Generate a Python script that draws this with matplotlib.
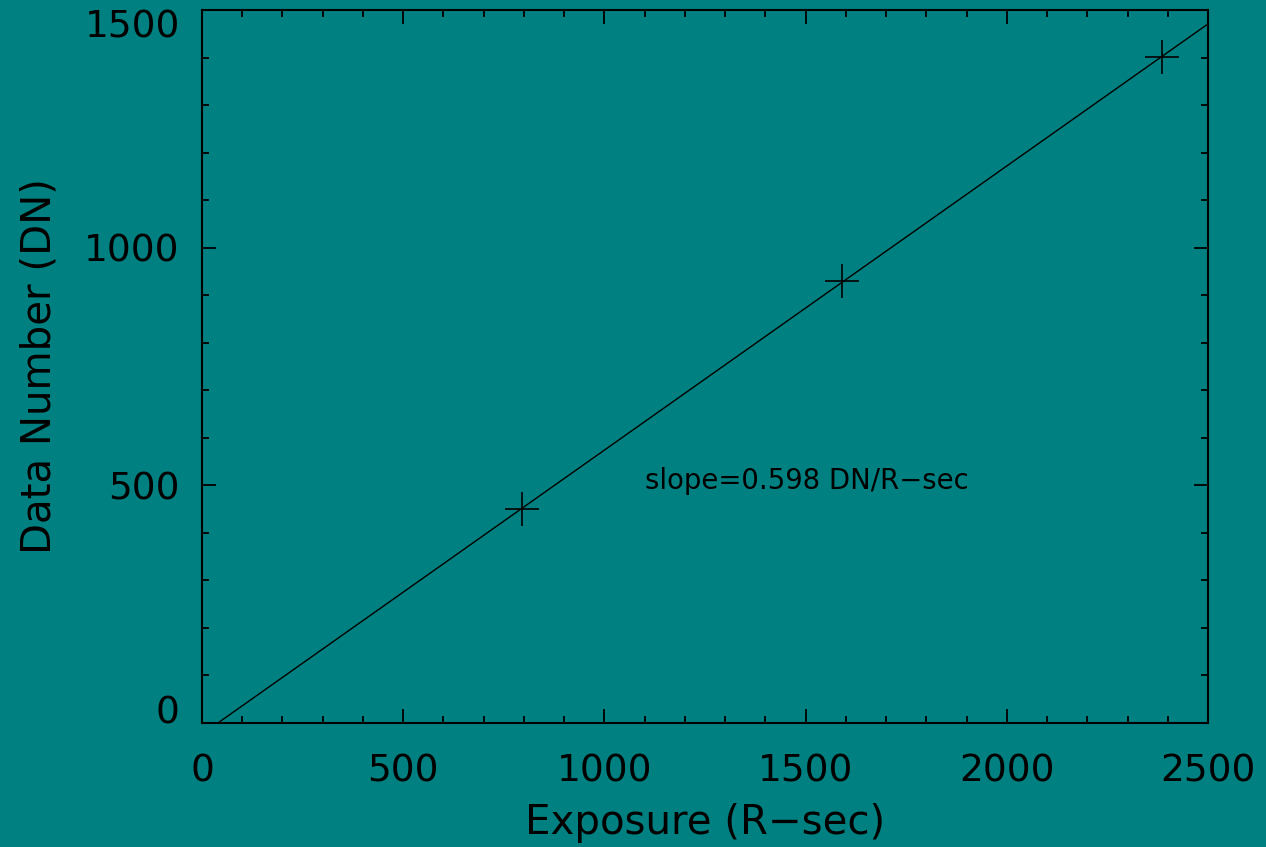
import numpy as np
import matplotlib
matplotlib.use("Agg")
import matplotlib.pyplot as plt
from matplotlib.ticker import MultipleLocator

# Measured points
exposure = [795, 1590, 2386]
data_number = [450, 930, 1401]
slope_text = "slope=0.598 DN/R\u2212sec"

bg = "#008080"
plt.rcParams["font.family"] = ["DejaVu Sans"]

fig = plt.figure(figsize=(12.66, 8.47), dpi=100, facecolor=bg)
ax = fig.add_axes([202 / 1266, 1 - 723 / 847, 1006 / 1266, 713 / 847])
ax.set_facecolor(bg)

# Data points as plus signs
ax.plot(exposure, data_number, linestyle="none", marker="+", markersize=24,
        markeredgewidth=1.2, color="black")

# Linear fit across the full x range
slope, intercept = np.polyfit(exposure, data_number, 1)
xs = np.array([0, 2500])
ax.plot(xs, intercept + slope * xs, color="black", linewidth=1.0)

ax.text(1100, 510, slope_text, fontsize=19.8, color="black", va="center")

ax.set_xlim(0, 2500)
ax.set_ylim(0, 1500)
ax.xaxis.set_major_locator(MultipleLocator(500))
ax.xaxis.set_minor_locator(MultipleLocator(100))
ax.yaxis.set_major_locator(MultipleLocator(500))
ax.yaxis.set_minor_locator(MultipleLocator(100))
ax.tick_params(which="both", direction="in", top=True, right=True,
               colors="black", width=1.3)
ax.tick_params(which="major", length=10)
ax.tick_params(which="minor", length=5)
ax.tick_params(axis="x", which="major", labelsize=27, pad=22)
ax.tick_params(axis="y", which="major", labelsize=27, pad=16)
for s in ax.spines.values():
    s.set_linewidth(1.5)
    s.set_color("black")

ax.set_xlabel("Exposure (R\u2212sec)", fontsize=29, labelpad=10)
ax.set_ylabel("Data Number (DN)", fontsize=29, labelpad=18)

# IDL-style: edge labels kept inside the axis range
fig.canvas.draw()
for tick in ax.yaxis.get_major_ticks():
    if tick.get_loc() == 0:
        tick.label1.set_va("baseline")
    elif tick.get_loc() == 1500:
        tick.label1.set_va("top")

fig.savefig("out.png", dpi=100, facecolor=bg)
